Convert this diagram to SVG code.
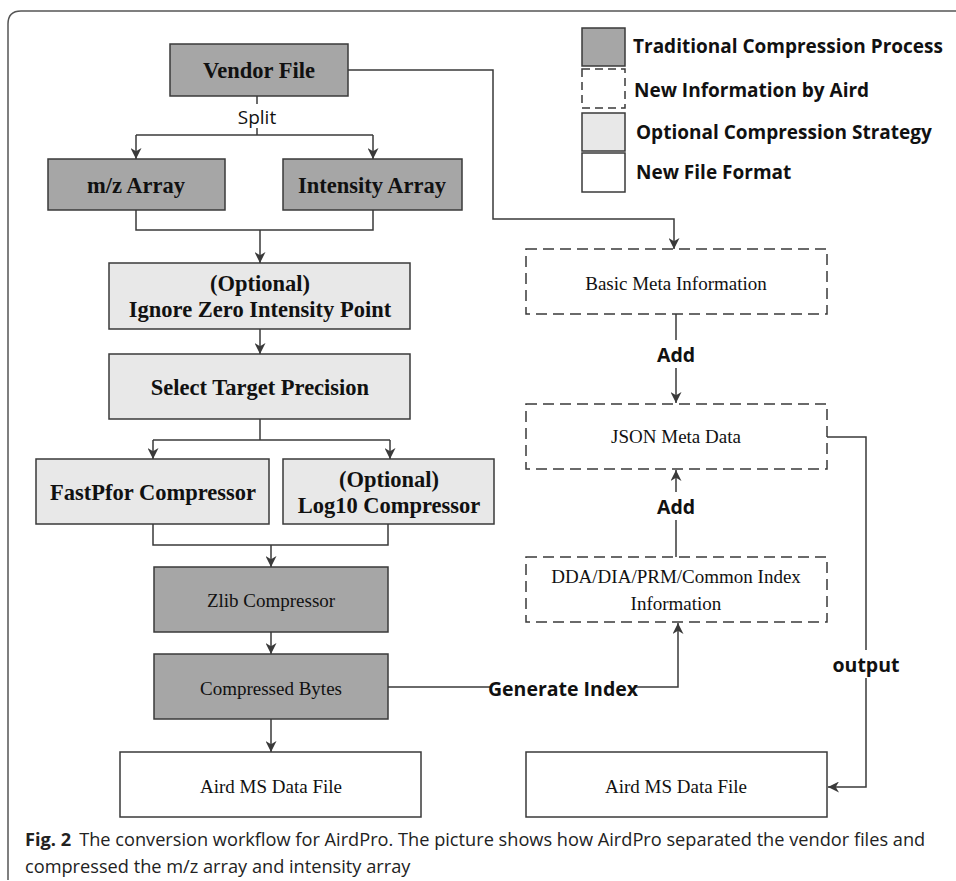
<svg xmlns="http://www.w3.org/2000/svg" width="956" height="881" viewBox="0 0 956 881">
<style>
.dark{fill:#a6a6a6;stroke:#3a3a3a;stroke-width:1.5}
.light{fill:#e8e8e8;stroke:#3a3a3a;stroke-width:1.5}
.white{fill:#fff;stroke:#3a3a3a;stroke-width:1.5}
.dash{fill:#fff;stroke:#3a3a3a;stroke-width:1.5;stroke-dasharray:11 6}
.tb{font-family:"Liberation Serif",serif;font-weight:bold;font-size:22.5px;fill:#111;text-anchor:middle}
.tr{font-family:"Liberation Serif",serif;font-size:19px;fill:#111;text-anchor:middle}
.lg{font-family:"Open Sans","Noto Sans",sans-serif;font-weight:bold;font-size:19px;fill:#111}
.lb{font-family:"Open Sans","Noto Sans",sans-serif;font-weight:bold;font-size:19.5px;fill:#111;text-anchor:middle}
.cap{font-family:"Open Sans","Noto Sans",sans-serif;font-size:18.2px;fill:#222}
.conn path{fill:none;stroke:#3a3a3a;stroke-width:1.5}
</style>
<defs>
<marker id="ah" viewBox="0 0 10 10" refX="10" refY="5" markerWidth="11" markerHeight="11" markerUnits="userSpaceOnUse" orient="auto">
<path d="M0,0 L10,5 L0,10 L3,5 Z" fill="#3a3a3a"/>
</marker>
</defs>
<rect width="956" height="881" fill="#fff"/>
<path d="M8,880 L8,24 Q8,11 21,11 L956,11" fill="none" stroke="#555" stroke-width="1.5"/>

<g id="legend">
<rect x="582" y="28" width="43" height="38" class="dark"/>
<rect x="582" y="69" width="43" height="39" class="dash" style="stroke-dasharray:8 5"/>
<rect x="582" y="113" width="43" height="38" class="light"/>
<rect x="582" y="153" width="43" height="39" class="white"/>
<text x="633" y="53" class="lg">Traditional Compression Process</text>
<text x="634" y="97" class="lg">New Information by Aird</text>
<text x="636" y="139" class="lg">Optional Compression Strategy</text>
<text x="636" y="179" class="lg">New File Format</text>
</g>

<g class="conn" id="connectors">
<path d="M257,96 V135"/>
<path d="M136,135 H373"/>
<path d="M136,135 V159" marker-end="url(#ah)"/>
<path d="M373,135 V159" marker-end="url(#ah)"/>
<path d="M136,210 V230 H373 V210"/>
<path d="M260,230 V263" marker-end="url(#ah)"/>
<path d="M260,329 V354" marker-end="url(#ah)"/>
<path d="M260,419 V440"/>
<path d="M153,440 H390"/>
<path d="M153,440 V459" marker-end="url(#ah)"/>
<path d="M390,440 V459" marker-end="url(#ah)"/>
<path d="M153,524 V545 H388 V524"/>
<path d="M271,545 V567" marker-end="url(#ah)"/>
<path d="M271,632 V654" marker-end="url(#ah)"/>
<path d="M271,719 V752" marker-end="url(#ah)"/>
<path d="M388,687 H678 V623" marker-end="url(#ah)"/>
<path d="M348,70 H493 V219 H674 V249" marker-end="url(#ah)"/>
<path d="M676,314 V403" marker-end="url(#ah)"/>
<path d="M676,557 V470" marker-end="url(#ah)"/>
<path d="M827,437 H866 V787 H828" marker-end="url(#ah)"/>
<rect x="234" y="104" width="46" height="24" fill="#fff"/>
<text x="257" y="124" style="font-family:'Open Sans','Noto Sans',sans-serif;font-size:19px;fill:#111;text-anchor:middle">Split</text>
<rect x="654" y="340" width="44" height="28" fill="#fff"/>
<text x="676" y="362" class="lb">Add</text>
<rect x="654" y="492" width="44" height="28" fill="#fff"/>
<text x="676" y="514" class="lb">Add</text>
<rect x="490" y="674" width="146" height="28" fill="#fff"/>
<text x="563" y="696" class="lb">Generate Index</text>
<rect x="832" y="650" width="68" height="28" fill="#fff"/>
<text x="866" y="672" class="lb">output</text>
</g>

<g id="vendor"><rect x="170" y="44" width="178" height="52" class="dark"/><text x="259" y="78" class="tb">Vendor File</text></g>
<g id="mz"><rect x="48" y="159" width="177" height="51" class="dark"/><text x="136" y="193" class="tb">m/z Array</text></g>
<g id="intensity"><rect x="283" y="159" width="179" height="51" class="dark"/><text x="372" y="193" class="tb">Intensity Array</text></g>
<g id="ignore"><rect x="109" y="263" width="301" height="66" class="light"/><text x="260" y="291" class="tb">(Optional)</text><text x="260" y="317" class="tb">Ignore Zero Intensity Point</text></g>
<g id="precision"><rect x="109" y="354" width="301" height="65" class="light"/><text x="260" y="395" class="tb">Select Target Precision</text></g>
<g id="fastpfor"><rect x="36" y="459" width="233" height="65" class="light"/><text x="153" y="500" class="tb">FastPfor Compressor</text></g>
<g id="log10"><rect x="283" y="459" width="211" height="65" class="light"/><text x="389" y="487" class="tb">(Optional)</text><text x="389" y="513" class="tb">Log10 Compressor</text></g>
<g id="zlib"><rect x="154" y="567" width="234" height="65" class="dark"/><text x="271" y="607" class="tr">Zlib Compressor</text></g>
<g id="bytes"><rect x="154" y="654" width="234" height="65" class="dark"/><text x="271" y="695" class="tr">Compressed Bytes</text></g>
<g id="aird1"><rect x="120" y="752" width="301" height="65" class="white"/><text x="271" y="793" class="tr">Aird MS Data File</text></g>
<g id="basicmeta"><rect x="526" y="249" width="301" height="65" class="dash"/><text x="676" y="290" class="tr">Basic Meta Information</text></g>
<g id="json"><rect x="526" y="404" width="301" height="65" class="dash"/><text x="676" y="443" class="tr">JSON Meta Data</text></g>
<g id="index"><rect x="526" y="557" width="301" height="65" class="dash"/><text x="676" y="583" class="tr">DDA/DIA/PRM/Common Index</text><text x="676" y="610" class="tr">Information</text></g>
<g id="aird2"><rect x="526" y="752" width="301" height="65" class="white"/><text x="676" y="793" class="tr">Aird MS Data File</text></g>

<g id="caption">
<text x="25" y="846" class="cap"><tspan font-weight="bold">Fig. 2</tspan><tspan dx="8">The conversion workflow for AirdPro. The picture shows how AirdPro separated the vendor files and</tspan></text>
<text x="25" y="873" class="cap">compressed the m/z array and intensity array</text>
</g>
</svg>
